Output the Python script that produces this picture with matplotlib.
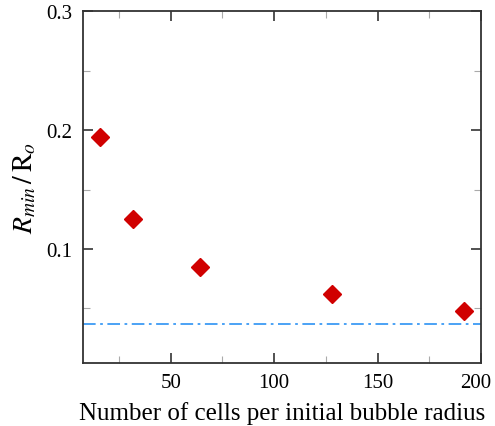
import numpy as np
import matplotlib
matplotlib.use('Agg')
import matplotlib.pyplot as plt
from matplotlib.ticker import MultipleLocator
import matplotlib.transforms as mtrans

cells = [16, 32, 64, 128, 192]
rmin = [0.194, 0.125, 0.085, 0.062, 0.048]
ref_level = 0.037
xticks = [50, 100, 150, 200]
yticks = [0.1, 0.2, 0.3]

plt.rcParams['font.family'] = ['Liberation Serif', 'DejaVu Serif']
plt.rcParams['mathtext.fontset'] = 'stix'

fig = plt.figure(figsize=(4.95, 4.27), dpi=100)
ax = fig.add_axes([0.1677, 0.1475, 0.8040, 0.8235])

ax.axhline(ref_level, color='#3d9bf5', lw=1.3, ls=(0, (7, 2.5, 1.5, 2.5)))
ax.plot(cells, rmin, 'D', color='#d00000', ms=9, mec='#d00000')

ax.set_xlim(7.6, 200)
ax.set_ylim(0.004, 0.3)
ax.set_xticks(xticks)
ax.set_yticks(yticks)
ax.xaxis.set_minor_locator(MultipleLocator(25))
ax.yaxis.set_minor_locator(MultipleLocator(0.05))

ax.tick_params(which='both', direction='in', top=True, right=True,
               labelsize=15, color='#333333')
ax.tick_params(which='major', length=7, width=1.2)
ax.tick_params(axis='x', pad=7)
ax.tick_params(axis='y', pad=8)
ax.tick_params(which='minor', length=5, width=0.8, color='#aaaaaa')
for s in ax.spines.values():
    s.set_color('#333333')
    s.set_linewidth(1.3)

ax.set_xlabel('Number of cells per initial bubble radius', fontsize=18, labelpad=7)
ax.set_ylabel(r'$R_{min}\,/\,\mathrm{R}_o$', fontsize=20, labelpad=5)

# last x label (200) pulled inward so it stays in frame
t = ax.xaxis.get_major_ticks(len(xticks))[xticks.index(200)]
t.label1.set_horizontalalignment('right')
t.label1.set_transform(t.label1.get_transform() +
                       mtrans.ScaledTranslation(10/100, 0, fig.dpi_scale_trans))

fig.savefig('out.png', dpi=100)
